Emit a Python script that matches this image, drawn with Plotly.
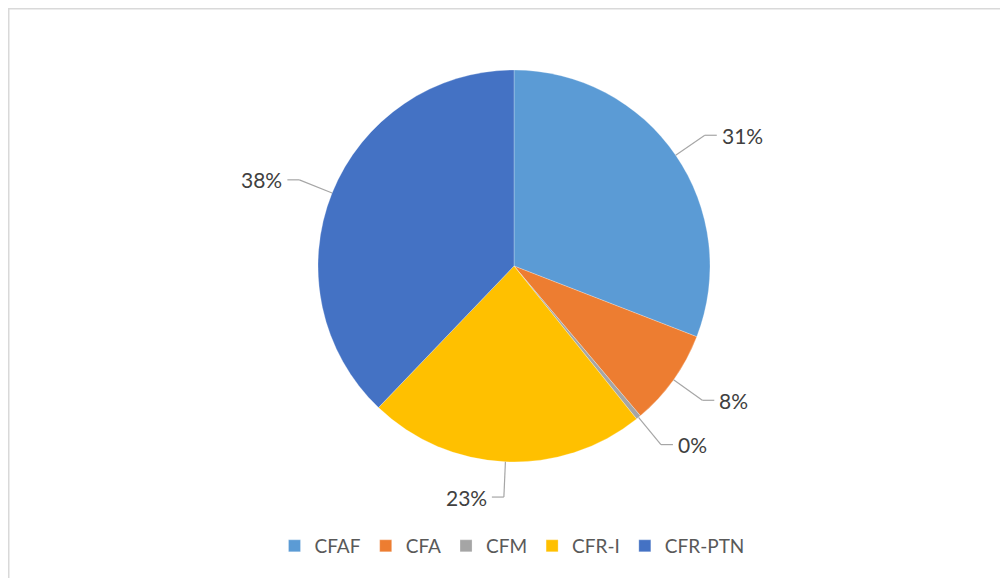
import math
import plotly.graph_objects as go

# ---- data ----
labels = ["CFAF", "CFA", "CFM", "CFR-I", "CFR-PTN"]
values = [31, 8, 0.4, 23, 38]
colors = ["#5B9BD5", "#ED7D31", "#A5A5A5", "#FFC000", "#4472C4"]

W, H = 1008, 578
CX, CY, R = 506, 258, 196  # pie centre / radius in figure pixels


def px(x):
    return x / W


def py(y):
    return 1 - y / H


fig = go.Figure()
fig.add_trace(go.Pie(
    labels=labels, values=values, sort=False, direction="clockwise", rotation=0,
    marker=dict(colors=colors, line=dict(color="rgba(255,255,255,0.5)", width=0.5)),
    textinfo="none", hoverinfo="label+percent",
    domain=dict(x=[px(CX - R), px(CX + R)], y=[py(CY + R), py(CY - R)]),
))

# data labels with leader lines, placed from each slice's mid-angle
total = sum(values)
cum = 0.0
shapes = []
annotations = []
for lab, v in zip(labels, values):
    mid = (cum + v / 2) / total * 2 * math.pi
    cum += v
    s, c = math.sin(mid), math.cos(mid)
    x0, y0 = CX + R * s, CY - R * c
    f = 1.18
    x1, y1 = CX + R * f * s, CY - R * f * c
    side = 1 if s >= 0 else -1
    x2 = x1 + side * 12
    line = dict(color="#A6A6A6", width=1.2)
    shapes.append(dict(type="line", xref="paper", yref="paper",
                       x0=px(x0), y0=py(y0), x1=px(x1), y1=py(y1), line=line))
    shapes.append(dict(type="line", xref="paper", yref="paper",
                       x0=px(x1), y0=py(y1), x1=px(x2), y1=py(y1), line=line))
    pct = round(v / total * 100)
    annotations.append(dict(
        xref="paper", yref="paper", x=px(x2 + side * 3), y=py(y1),
        text=f"{pct}%", showarrow=False,
        xanchor="left" if side > 0 else "right", yanchor="middle",
        font=dict(family="Lato, Calibri, sans-serif", size=21, color="#404040"),
    ))

# chart-area border
shapes.append(dict(type="rect", xref="paper", yref="paper",
                   x0=px(0.75), y0=-0.05, x1=1.05, y1=py(0.75),
                   line=dict(color="#D9D9D9", width=1.5), layer="below"))

fig.update_layout(
    width=W, height=H,
    margin=dict(l=0, r=0, t=0, b=0),
    paper_bgcolor="white", plot_bgcolor="white",
    shapes=shapes, annotations=annotations,
    showlegend=True,
    legend=dict(orientation="h", x=0.5, xanchor="center", y=py(538), yanchor="middle",
                font=dict(family="Lato, Calibri, sans-serif", size=19, color="#595959"),
                itemwidth=30, traceorder="normal"),
)

fig.write_html("out.html")
